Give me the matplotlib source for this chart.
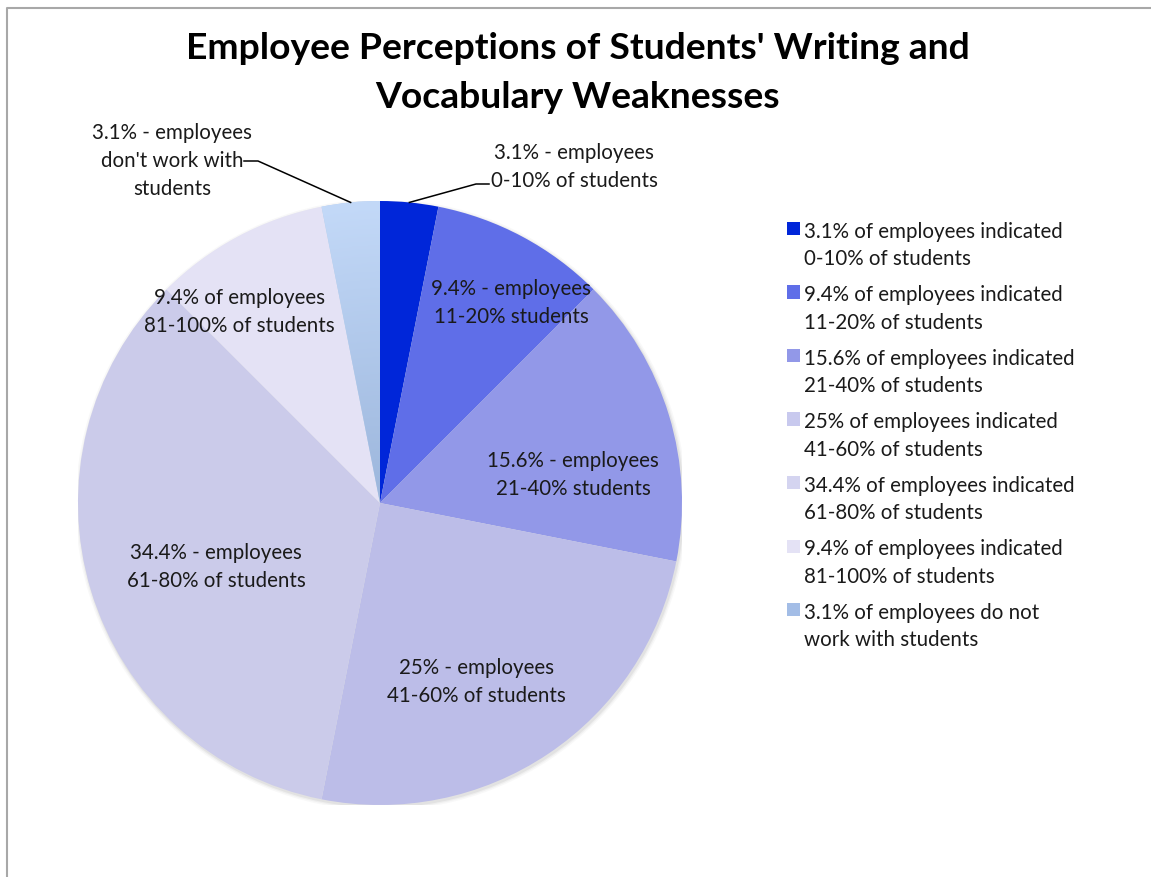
import matplotlib
matplotlib.use('Agg')
import matplotlib.pyplot as plt
import numpy as np
from matplotlib.patches import Rectangle, Circle
from matplotlib.lines import Line2D
from matplotlib.colors import LinearSegmentedColormap

# ---------------- data ----------------
values = [3.1, 9.4, 15.6, 25, 34.4, 9.4, 3.1]
colors = ['#0026d9', '#5f6ee8', '#9298e8', '#bcbde8', '#cbcbea', '#e4e2f5', '#b4cdf2']
slice_labels = [
    "3.1% - employees\n0-10% of students",
    "9.4% - employees\n11-20% students",
    "15.6% - employees\n21-40% students",
    "25% - employees\n41-60% of students",
    "34.4% - employees\n61-80% of students",
    "9.4% of employees\n81-100% of students",
    "3.1% - employees\ndon't work with\nstudents",
]
legend_labels = [
    "3.1% of employees indicated\n0-10% of students",
    "9.4% of employees indicated\n11-20% of students",
    "15.6% of employees indicated\n21-40% of students",
    "25% of employees indicated\n41-60% of students",
    "34.4% of employees indicated\n61-80% of students",
    "9.4% of employees indicated\n81-100% of students",
    "3.1% of employees do not\nwork with students",
]
legend_colors = ['#0026d9', '#5f6ee8', '#9298e8', '#c8c9ee', '#d4d4f0', '#e4e2f5', '#a3bde6']
title = "Employee Perceptions of Students' Writing and\nVocabulary Weaknesses"

# label positions (pixel coordinates of text centres) -- layout only
label_pos = [(574, 166), (511, 302), (573, 474), (476, 681), (216, 566), (239, 311), (172, 160)]
# leader-line elbows for outside labels: (slice index, elbow start, elbow end)
leaders = {0: ((489, 185), (476, 185)), 6: ((244, 162), (258, 162))}

FONT = ['Lato', 'DejaVu Sans']
plt.rcParams['font.family'] = FONT

W, H = 1151, 878
fig = plt.figure(figsize=(W / 100, H / 100), dpi=100)
fig.patch.set_facecolor('white')

R = 302
cx, cy = 380, 504
ax = fig.add_axes([(cx - R) / W, (H - cy - R) / H, 2 * R / W, 2 * R / H])

def p2d(px, py):
    return ((px - cx) / R, (cy - py) / R)

# soft shadow
for k, a in [(1.012, 0.05), (1.007, 0.08), (1.003, 0.12)]:
    ax.add_patch(Circle((0.004, -0.006), k, facecolor='#888888', edgecolor='none', alpha=a, zorder=0))

wedges, _ = ax.pie(values, colors=colors, startangle=90, counterclock=False, radius=1,
                   wedgeprops=dict(linewidth=0, zorder=1))

# gradient for last slice
gx, gy = np.meshgrid(np.linspace(-1, 1, 400), np.linspace(-1, 1, 400))
rr = np.sqrt(gx ** 2 + gy ** 2)
cmap = LinearSegmentedColormap.from_list('g', ['#9cb6dc', '#c3d9f8'])
im = ax.imshow(rr, extent=[-1, 1, -1, 1], origin='lower', cmap=cmap, vmin=0, vmax=1, zorder=2)
im.set_clip_path(wedges[6])

ax.set_xlim(-1, 1)
ax.set_ylim(-1, 1)
ax.set_aspect('equal')
ax.axis('off')

# slice labels
total = sum(values)
for i, (lab, (px, py)) in enumerate(zip(slice_labels, label_pos)):
    x, y = p2d(px, py + 1)
    ax.text(x, y, lab, ha='center', va='center', fontsize=14.8, color='#1a1a1a',
            linespacing=1.49, zorder=5, clip_on=False)

# leader lines
cum = np.cumsum([0] + values)
for i, (e1, e2) in leaders.items():
    mid = 90 - (cum[i] + values[i] / 2) / total * 360
    ex, ey = np.cos(np.radians(mid)), np.sin(np.radians(mid))
    a = p2d(*e1)
    b = p2d(*e2)
    ax.plot([a[0], b[0], ex], [a[1], b[1], ey], color='black', lw=1.1, zorder=5, clip_on=False)

# title
fig.text(578 / W, 1 - 73 / H, title, ha='center', va='center', fontsize=26.8,
         fontweight='bold', color='black', linespacing=1.58)

# legend (manual)
for i, (lab, col) in enumerate(zip(legend_labels, legend_colors)):
    ytop = 231 + i * 63.5
    fig.patches.append(Rectangle((787 / W, 1 - 236 / H - i * 63.5 / H), 13 / W, 13 / H,
                                 transform=fig.transFigure, facecolor=col, edgecolor='none'))
    fig.text(804 / W, 1 - (ytop + 14.5) / H, lab, ha='left', va='center', fontsize=14.8,
             color='#1a1a1a', linespacing=1.49)

# border (left and top)
fig.add_artist(Line2D([7 / W, 7 / W, 1], [0, 1 - 9 / H, 1 - 9 / H], transform=fig.transFigure,
                      color='#a8a8a8', lw=1.5))

fig.savefig('out.png', dpi=100, facecolor='white')
